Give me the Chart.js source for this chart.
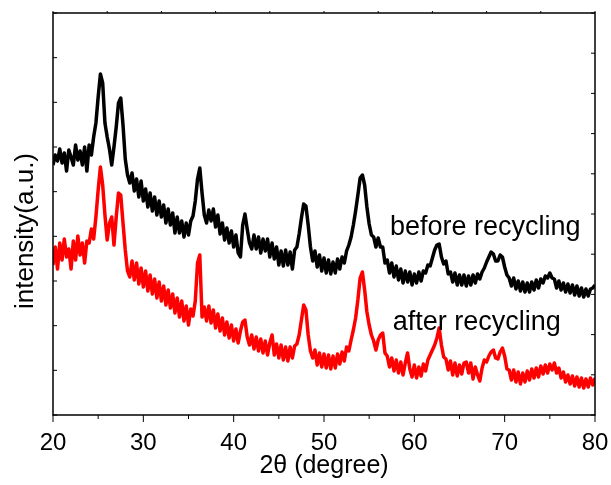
<!DOCTYPE html>
<html>
<head>
<meta charset="utf-8">
<script src="https://cdn.jsdelivr.net/npm/chart.js@4.4.0/dist/chart.umd.min.js"></script>
<style>
  html, body { margin: 0; padding: 0; background: #fff; }
  #wrap { width: 611px; height: 485px; }
</style>
</head>
<body>
<div id="wrap"><canvas id="xrdChart" width="611" height="485"></canvas></div>
<script>
// 2theta grid: 20 to 80 degrees, 0.25 degree step
var startAngle = 20;
var stepAngle = 0.25;

// intensity (a.u.), one row = 4 degrees
var beforeRecycling = [
    250, 260, 254, 266, 252, 262, 244, 265, 258, 250, 270, 255, 264, 250, 268, 244, // 20
    270, 260, 278, 292, 318, 341, 332, 292, 278, 266, 250, 268, 288, 312, 317, 290, // 24
    256, 240, 232, 242, 224, 236, 218, 234, 214, 226, 208, 222, 204, 218, 200, 214, // 28
    198, 210, 192, 206, 190, 202, 182, 198, 182, 194, 178, 192, 180, 194, 199, 214, // 32
    236, 247, 222, 200, 192, 205, 194, 206, 188, 200, 181, 192, 175, 187, 172, 184, // 36
    168, 180, 162, 158, 190, 201, 186, 172, 166, 180, 166, 178, 162, 176, 164, 176, // 40
    158, 172, 156, 168, 150, 164, 149, 165, 150, 163, 146, 165, 168, 181, 197, 211, // 44
    209, 190, 168, 154, 164, 148, 160, 144, 157, 142, 155, 141, 153, 142, 156, 146, // 48
    158, 152, 164, 170, 178, 190, 204, 220, 237, 240, 230, 208, 191, 180, 178, 168, // 52
    177, 168, 168, 152, 155, 142, 152, 138, 149, 135, 146, 132, 144, 133, 143, 130, // 56
    141, 132, 143, 134, 144, 142, 150, 149, 157, 165, 170, 171, 158, 151, 154, 141, // 60
    143, 133, 142, 130, 140, 130, 140, 129, 139, 130, 140, 132, 141, 136, 143, 147, // 64
    153, 158, 163, 161, 154, 154, 160, 158, 148, 140, 137, 129, 137, 126, 134, 124, // 68
    133, 123, 132, 123, 133, 125, 135, 127, 136, 132, 139, 137, 142, 137, 136, 127, // 72
    134, 125, 132, 123, 131, 122, 130, 120, 129, 119, 127, 118, 126, 119, 126, 127, // 76
    130
];
var afterRecycling = [
    150, 168, 146, 172, 155, 176, 158, 166, 146, 174, 155, 179, 160, 172, 152, 174, // 20
    172, 186, 176, 198, 225, 248, 230, 200, 175, 192, 198, 170, 198, 222, 220, 192, // 24
    165, 144, 138, 154, 135, 152, 131, 147, 128, 144, 124, 140, 121, 136, 117, 133, // 28
    114, 129, 110, 125, 107, 121, 102, 117, 98, 114, 94, 109, 90, 106, 99, 114,     // 32
    152, 160, 98, 108, 94, 109, 92, 105, 87, 101, 84, 97, 80, 93, 77, 90,           // 36
    74, 86, 72, 84, 93, 95, 78, 70, 80, 66, 78, 64, 76, 62, 74, 60,                 // 40
    72, 80, 60, 71, 57, 70, 55, 68, 54, 68, 57, 69, 71, 80, 95, 110,                // 44
    105, 80, 64, 57, 65, 50, 62, 48, 61, 47, 60, 46, 59, 47, 61, 51,                // 48
    63, 54, 68, 64, 75, 85, 97, 115, 137, 143, 125, 103, 90, 80, 74, 65,            // 52
    75, 80, 82, 62, 59, 48, 57, 44, 55, 42, 53, 40, 52, 62, 46, 38,                 // 56
    50, 37, 48, 39, 51, 44, 55, 60, 65, 70, 77, 87, 70, 58, 56, 45,                 // 60
    54, 40, 52, 39, 50, 41, 52, 53, 42, 52, 36, 48, 40, 34, 47, 55,                 // 64
    53, 59, 63, 65, 57, 56, 63, 67, 59, 46, 45, 35, 45, 33, 43, 31,                 // 68
    42, 33, 44, 35, 46, 37, 47, 38, 49, 41, 50, 42, 51, 45, 52, 42,                 // 72
    47, 37, 43, 33, 40, 31, 39, 29, 38, 28, 37, 27, 36, 28, 37, 30,                 // 76
    37
];

var xTicks = [20, 30, 40, 50, 60, 70, 80];
var seriesNames = ['before recycling', 'after recycling'];

var twoTheta = beforeRecycling.map(function (v, i) { return startAngle + i * stepAngle; });

function toPoints(values) {
    return values.map(function (v, i) { return { x: twoTheta[i], y: v }; });
}

var fontName = '"Liberation Sans", Arial, sans-serif';

// frame, inward/outward ticks, y title and the two curve labels
var framePlugin = {
    id: 'frame',
    afterDatasetsDraw: function (chart) {
        var ctx = chart.ctx;
        var a = chart.chartArea;
        var xs = chart.scales.x;
        var ys = chart.scales.y;
        ctx.save();
        ctx.strokeStyle = '#000';
        ctx.lineWidth = 1.5;
        ctx.strokeRect(a.left, a.top, a.right - a.left, a.bottom - a.top);

        ctx.lineWidth = 1;
        ctx.beginPath();
        // bottom: major every 10, minor every 5, pointing out
        for (var v = 20; v <= 80; v += 5) {
            var px = xs.getPixelForValue(v);
            ctx.moveTo(px, a.bottom);
            ctx.lineTo(px, a.bottom + (v % 10 === 0 ? 7 : 4));
        }
        // top: 10 intervals, small outward marks
        for (var i = 0; i <= 10; i++) {
            var tx = a.left + (a.right - a.left) * i / 10;
            ctx.moveTo(tx, a.top);
            ctx.lineTo(tx, a.top - 2);
        }
        // left: 9 intervals, inward
        for (var j = 0; j <= 9; j++) {
            var ly = a.bottom - (a.bottom - a.top) * j / 9;
            ctx.moveTo(a.left, ly);
            ctx.lineTo(a.left + 4, ly);
        }
        // right: 10 intervals, inward
        for (var k = 0; k <= 10; k++) {
            var ry = a.bottom - (a.bottom - a.top) * k / 10;
            ctx.moveTo(a.right, ry);
            ctx.lineTo(a.right - 4, ry);
        }
        ctx.stroke();

        ctx.fillStyle = '#000';
        ctx.font = '27px ' + fontName;
        ctx.textBaseline = 'middle';
        ctx.textAlign = 'left';
        ctx.fillText(seriesNames[0], xs.getPixelForValue(57.3), ys.getPixelForValue(187));
        ctx.fillText(seriesNames[1], xs.getPixelForValue(57.6), ys.getPixelForValue(92));

        // y axis title
        ctx.translate(26, ys.getPixelForValue(184));
        ctx.rotate(-Math.PI / 2);
        ctx.textAlign = 'center';
        ctx.font = '26px ' + fontName;
        ctx.fillText('intensity(a.u.)', 0, 0);
        ctx.restore();
    }
};

var chart = new Chart(document.getElementById('xrdChart').getContext('2d'), {
    type: 'line',
    data: {
        datasets: [{
            label: seriesNames[0],
            data: toPoints(beforeRecycling),
            borderColor: '#000000',
            borderWidth: 3.5,
            borderJoinStyle: 'round',
            pointRadius: 0,
            tension: 0
        }, {
            label: seriesNames[1],
            data: toPoints(afterRecycling),
            borderColor: '#ff0000',
            borderWidth: 3.5,
            borderJoinStyle: 'round',
            pointRadius: 0,
            tension: 0
        }]
    },
    options: {
        responsive: false,
        animation: false,
        devicePixelRatio: 1,
        layout: { padding: { left: 0, right: 16, top: 13, bottom: 0 } },
        plugins: {
            legend: { display: false },
            tooltip: { enabled: false }
        },
        scales: {
            x: {
                type: 'linear',
                min: 20,
                max: 80,
                afterBuildTicks: function (scale) {
                    scale.ticks = xTicks.map(function (t) { return { value: t }; });
                },
                ticks: {
                    color: '#000',
                    font: { family: fontName, size: 24 },
                    padding: 6,
                    maxRotation: 0
                },
                grid: { display: false },
                border: { display: false },
                title: {
                    display: true,
                    text: '2θ (degree)',
                    color: '#000',
                    font: { family: fontName, size: 25 },
                    padding: { top: 0, bottom: 4 }
                },
                afterFit: function (scale) {
                    scale.height = 70;
                    scale.paddingLeft = 0;
                    scale.paddingRight = 0;
                }
            },
            y: {
                min: 0,
                max: 402,
                ticks: { display: false },
                grid: { display: false },
                border: { display: false },
                afterFit: function (scale) { scale.width = 53; }
            }
        }
    },
    plugins: [framePlugin]
});
</script>
</body>
</html>
